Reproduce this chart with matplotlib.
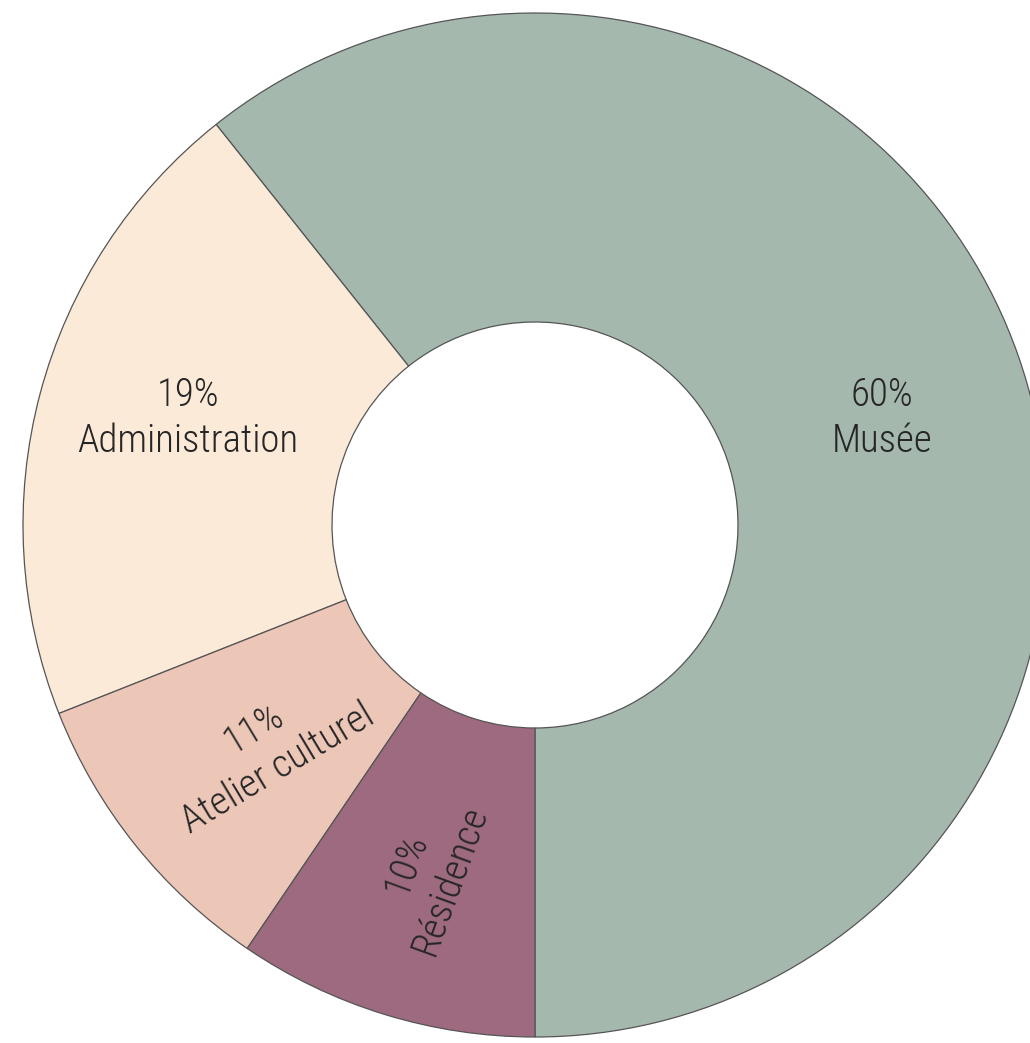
import numpy as np
import matplotlib
matplotlib.use("Agg")
import matplotlib.pyplot as plt

# data (wedge shares from geometry, labels as printed)
categories = ["Musée", "Administration", "Atelier culturel", "Résidence"]
shares = [60.7, 20.3, 9.5, 9.5]
pct_labels = ["60%", "19%", "11%", "10%"]
colors = ["#a4b8ae", "#fcead8", "#ecc6b7", "#9e6a80"]

plt.rcParams['font.family'] = ['Roboto Condensed', 'DejaVu Sans']

fig = plt.figure(figsize=(10.30, 10.43), dpi=100)
ax = fig.add_axes([0, 0, 1, 1])

outer, inner = 512, 203
wedges, _ = ax.pie(shares, colors=colors, startangle=-90, counterclock=True,
                   radius=outer,
                   wedgeprops=dict(width=outer - inner, edgecolor="#555555",
                                   linewidth=0.9))

# pie() resets the limits, so set them afterwards (1 data unit = 1 pixel)
ax.set_xlim(-535, 495)
ax.set_ylim(-518, 525)
ax.set_aspect('equal')
ax.axis('off')

# label placement: angle nudge from wedge middle, radius, text rotation
nudges = [-2.2, -2.2, 1.0, 0.0]
radii = [363, 363, 350, 363]
rotations = [0, 0, 31, 70]
for w, pct, cat, nudge, r, rot in zip(wedges, pct_labels, categories, nudges, radii, rotations):
    mid = np.deg2rad((w.theta1 + w.theta2) / 2 + nudge)
    ax.text(r * np.cos(mid), r * np.sin(mid), f"{pct}\n{cat}",
            ha='center', va='center', rotation=rot, rotation_mode='anchor',
            fontsize=28, fontweight=300, color="#262626", linespacing=1.3)

fig.savefig("out.png", dpi=100)
